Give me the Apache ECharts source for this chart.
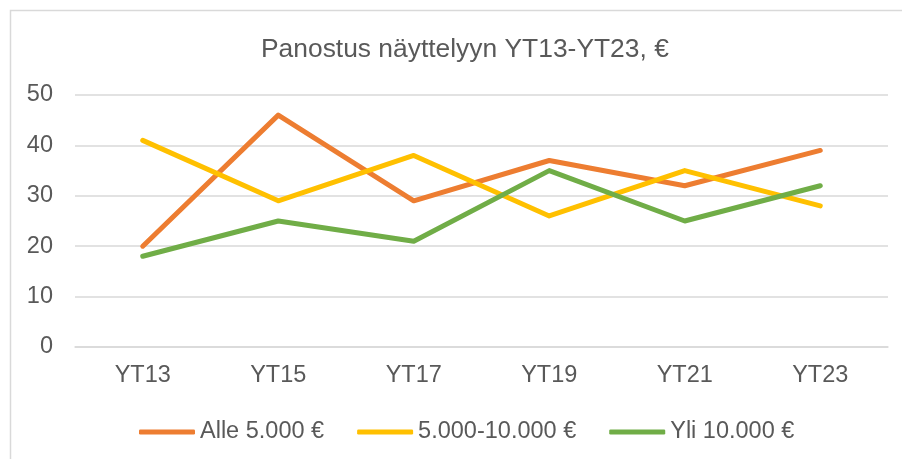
<!DOCTYPE html>
<html>
<head>
<meta charset="utf-8">
<script src="https://cdn.jsdelivr.net/npm/echarts@6/dist/echarts.min.js"></script>
<style>
  html, body { margin: 0; padding: 0; background: #fff; }
  #main { width: 902px; height: 459px; }
</style>
</head>
<body>
<div id="main"></div>
<script>
var categories = ['YT13', 'YT15', 'YT17', 'YT19', 'YT21', 'YT23'];
var alle5000 = [20, 46, 29, 37, 32, 39];
var v5000to10000 = [41, 29, 38, 26, 35, 28];
var yli10000 = [18, 25, 21, 35, 25, 32];

var myChart = echarts.init(document.getElementById('main'));

var font = '"Liberation Sans", Arial, sans-serif';
var textColor = '#595959';

var option = {
    animation: false,
    textStyle: { fontFamily: font },
    graphic: [{
        type: 'rect',
        shape: { x: 10.5, y: 10.5, width: 920, height: 470 },
        style: { fill: 'none', stroke: '#D9D9D9', lineWidth: 1.5 },
        silent: true
    }],
    title: {
        text: 'Panostus näyttelyyn YT13-YT23, €',
        left: 256,
        top: 32,
        textStyle: { fontFamily: font, fontSize: 26.4, fontWeight: 'normal', color: textColor }
    },
    legend: {
        top: 415,
        left: 134,
        icon: 'roundRect',
        itemWidth: 56,
        itemHeight: 5,
        itemGap: 33,
        textStyle: { fontFamily: font, fontSize: 23.5, color: textColor },
        data: ['Alle 5.000 €', '5.000-10.000 €', 'Yli 10.000 €']
    },
    grid: { left: 75, right: 14, top: 95, bottom: 112 },
    xAxis: {
        type: 'category',
        data: categories,
        boundaryGap: true,
        axisLine: { lineStyle: { color: '#D9D9D9', width: 1.5 } },
        axisTick: { show: false },
        axisLabel: { fontFamily: font, fontSize: 23.5, color: textColor, margin: 17 }
    },
    yAxis: {
        type: 'value',
        min: 0,
        max: 50,
        interval: 10,
        axisLine: { show: false },
        axisTick: { show: false },
        axisLabel: { fontFamily: font, fontSize: 23.5, color: textColor, margin: 22 },
        splitLine: { lineStyle: { color: '#D9D9D9', width: 1.5 } }
    },
    series: [
        {
            name: 'Alle 5.000 €',
            type: 'line',
            data: alle5000,
            symbol: 'none',
            color: '#ED7D31',
            lineStyle: { width: 5, color: '#ED7D31', cap: 'round', join: 'round' }
        },
        {
            name: '5.000-10.000 €',
            type: 'line',
            data: v5000to10000,
            symbol: 'none',
            color: '#FFC000',
            lineStyle: { width: 5, color: '#FFC000', cap: 'round', join: 'round' }
        },
        {
            name: 'Yli 10.000 €',
            type: 'line',
            data: yli10000,
            symbol: 'none',
            color: '#70AD47',
            lineStyle: { width: 5, color: '#70AD47', cap: 'round', join: 'round' }
        }
    ]
};

myChart.setOption(option);
</script>
</body>
</html>
